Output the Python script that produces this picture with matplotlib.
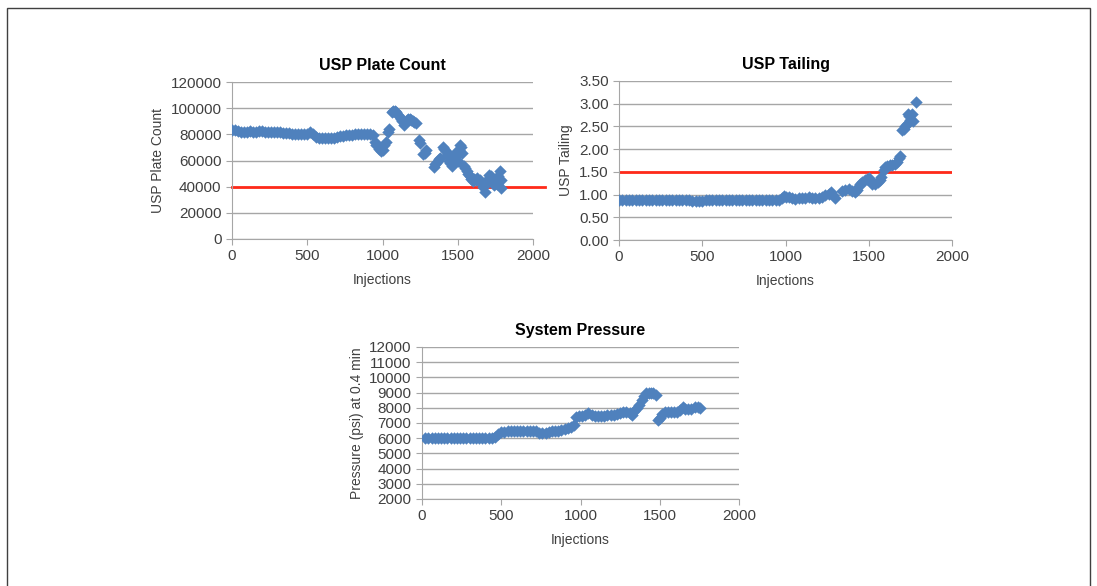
import matplotlib
matplotlib.use("Agg")
import matplotlib.pyplot as plt
from matplotlib.patches import Rectangle

plt.rcParams['font.family'] = ['Liberation Sans', 'DejaVu Sans']

# USP plate count vs injections
plate_x = [0, 20, 40, 60, 80, 100, 120, 140, 160, 180, 200, 220, 240, 260, 280, 300,
           320, 340, 360, 380, 400, 420, 440, 460, 480, 500, 520, 540, 560, 580, 600,
           620, 640, 660, 680, 700, 720, 740, 760, 780, 800, 820, 840, 860, 880, 900,
           920, 940, 950, 960, 970, 980, 990, 1000, 1010, 1020, 1035, 1045, 1060, 1070,
           1080, 1090, 1100, 1110, 1120, 1130, 1140, 1150, 1160, 1170, 1180, 1190, 1200,
           1210, 1220, 1240, 1250, 1270, 1280, 1290, 1340, 1350, 1360, 1375, 1385, 1400,
           1410, 1420, 1430, 1440, 1450, 1460, 1475, 1485, 1495, 1500, 1505, 1515, 1520,
           1525, 1540, 1550, 1560, 1570, 1580, 1590, 1600, 1610, 1620, 1630, 1640, 1650,
           1660, 1670, 1680, 1690, 1700, 1710, 1720, 1730, 1740, 1750, 1760, 1770, 1780,
           1785, 1790]
plate_y = [83000, 83000, 82500, 82000, 82000, 82000, 82500, 82000, 82000, 82500, 82500,
           82000, 82000, 81500, 81500, 81500, 81500, 81000, 81000, 81000, 80500, 80500,
           80500, 80500, 80500, 80500, 82000, 80000, 78000, 77000, 77000, 77000, 77000,
           77500, 77500, 78000, 78500, 79000, 79500, 79500, 79500, 80000, 80000, 80000,
           80000, 80000, 80000, 79500, 74000, 72000, 71000, 69000, 67000, 68000, 72000,
           74000, 82000, 84000, 97000, 98000, 97500, 97000, 95000, 94000, 92000, 90000,
           87000, 89000, 91000, 92000, 91500, 91000, 90000, 89500, 88500, 76000, 73000,
           65000, 66000, 68000, 55000, 57000, 59000, 61000, 62000, 70000, 69000, 67000,
           64000, 60000, 58000, 56000, 62000, 66000, 64000, 60000, 68000, 72000, 70000,
           66000, 56000, 54000, 52000, 50000, 48000, 46000, 44000, 46000, 45000, 47000,
           44000, 45000, 42000, 40000, 36000, 42000, 46000, 49000, 48000, 44000, 41000,
           44000, 42000, 48000, 52000, 45000, 39000]

# USP tailing vs injections
tail_x = [0, 20, 40, 60, 80, 100, 120, 140, 160, 180, 200, 220, 240, 260, 280, 300, 320,
          340, 360, 380, 400, 420, 440, 460, 480, 500, 520, 540, 560, 580, 600, 620, 640,
          660, 680, 700, 720, 740, 760, 780, 800, 820, 840, 860, 880, 900, 920, 940, 960,
          980, 990, 1000, 1020, 1040, 1060, 1080, 1100, 1120, 1140, 1160, 1180, 1200,
          1220, 1240, 1260, 1275, 1285, 1300, 1340, 1360, 1380, 1400, 1420, 1430, 1440,
          1450, 1460, 1475, 1490, 1500, 1510, 1520, 1540, 1555, 1565, 1575, 1590, 1600,
          1610, 1625, 1640, 1655, 1670, 1680, 1688, 1700, 1710, 1720, 1728, 1735, 1742,
          1750, 1758, 1765, 1785]
tail_y = [0.87, 0.87, 0.87, 0.87, 0.87, 0.87, 0.87, 0.87, 0.87, 0.87, 0.87, 0.87, 0.87,
          0.87, 0.87, 0.87, 0.87, 0.87, 0.87, 0.87, 0.87, 0.87, 0.86, 0.86, 0.86, 0.86,
          0.87, 0.88, 0.88, 0.88, 0.88, 0.88, 0.88, 0.88, 0.88, 0.88, 0.88, 0.88, 0.88,
          0.88, 0.88, 0.88, 0.88, 0.88, 0.88, 0.88, 0.88, 0.88, 0.89, 0.93, 0.97, 0.95,
          0.94, 0.92, 0.90, 0.92, 0.93, 0.93, 0.95, 0.93, 0.92, 0.93, 0.95, 0.98, 1.02,
          1.06, 0.99, 0.93, 1.08, 1.10, 1.12, 1.08, 1.05, 1.10, 1.18, 1.24, 1.28, 1.32,
          1.35, 1.36, 1.30, 1.24, 1.24, 1.28, 1.32, 1.38, 1.55, 1.60, 1.62, 1.64, 1.65,
          1.68, 1.72, 1.80, 1.84, 2.42, 2.45, 2.50, 2.55, 2.78, 2.72, 2.65, 2.78, 2.62,
          3.03]

# system pressure (psi) at 0.4 min vs injections
pres_x = [20, 40, 60, 80, 100, 120, 140, 160, 180, 200, 220, 240, 260, 280, 300, 320, 340,
          360, 380, 400, 420, 440, 460, 480, 500, 520, 540, 560, 580, 600, 620, 640, 660,
          680, 700, 720, 740, 760, 780, 800, 820, 840, 860, 880, 900, 920, 940, 960, 970,
          990, 1010, 1030, 1050, 1070, 1090, 1110, 1130, 1150, 1170, 1190, 1210, 1230,
          1250, 1270, 1290, 1310, 1325, 1340, 1355, 1370, 1385, 1400, 1415, 1430, 1445,
          1460, 1475, 1490, 1500, 1515, 1530, 1550, 1570, 1590, 1610, 1630, 1645, 1660,
          1680, 1700, 1720, 1740, 1755]
pres_y = [6000, 6000, 6000, 6000, 6000, 6000, 6000, 6000, 6000, 6000, 6000, 6000, 6000,
          6000, 6000, 6000, 6000, 6000, 6000, 6000, 6000, 6000, 6100, 6300, 6400, 6400,
          6450, 6450, 6450, 6450, 6500, 6500, 6500, 6500, 6500, 6450, 6350, 6350, 6350,
          6400, 6450, 6450, 6500, 6550, 6600, 6650, 6750, 6850, 7400, 7450, 7450, 7500,
          7650, 7500, 7450, 7450, 7450, 7450, 7500, 7500, 7550, 7600, 7650, 7700, 7750,
          7650, 7500, 7800, 8000, 8200, 8500, 8750, 8950, 9000, 9000, 8950, 8850, 7200,
          7300, 7600, 7750, 7750, 7750, 7750, 7750, 7850, 8050, 7950, 7900, 7950, 8050,
          8050, 8000]

plate_limit = 40000
tail_limit = 1.5

blue = '#4F81BD'
grid_col = '#A6A6A6'
text_col = '#404040'

fig = plt.figure(figsize=(10.97, 5.86), dpi=100)
fig.patches.append(Rectangle((7 / 1097, -0.1), 1083 / 1097, 1.1 - 8 / 586,
                             transform=fig.transFigure, fill=False,
                             edgecolor='#404040', linewidth=1.0))

ax1 = fig.add_axes([232 / 1097, 1 - 239 / 586, 301 / 1097, 157 / 586])
ax2 = fig.add_axes([619 / 1097, 1 - 240 / 586, 333 / 1097, 159 / 586])
ax3 = fig.add_axes([422 / 1097, 1 - 499 / 586, 317 / 1097, 152 / 586])


def style(ax, title, ylabel):
    ax.set_xlim(0, 2000)
    ax.set_xticks([0, 500, 1000, 1500, 2000])
    ax.grid(axis='y', color=grid_col, linewidth=1.0)
    ax.set_axisbelow(True)
    for s in ['top', 'right']:
        ax.spines[s].set_visible(False)
    for s in ['left', 'bottom']:
        ax.spines[s].set_color(grid_col)
    ax.tick_params(colors=grid_col, labelcolor=text_col, labelsize=11, length=4)
    ax.set_title(title, fontsize=11.5, fontweight='bold', pad=9, color='black')
    ax.set_xlabel('Injections', fontsize=10, color=text_col, labelpad=7)
    ax.set_ylabel(ylabel, fontsize=10, color=text_col)


ax1.scatter(plate_x, plate_y, marker='D', s=40, color=blue, zorder=3, linewidths=0)
ax1.axhline(plate_limit, color='#FF2A1A', linewidth=2, xmax=1.04, clip_on=False, zorder=2)
ax1.set_ylim(0, 120000)
ax1.set_yticks(range(0, 120001, 20000))
style(ax1, 'USP Plate Count', 'USP Plate Count')

ax2.scatter(tail_x, tail_y, marker='D', s=40, color=blue, zorder=3, linewidths=0)
ax2.axhline(tail_limit, color='#FF2A1A', linewidth=2, zorder=2)
ax2.set_ylim(0, 3.5)
ax2.set_yticks([0, 0.5, 1.0, 1.5, 2.0, 2.5, 3.0, 3.5])
ax2.set_yticklabels(['%.2f' % v for v in [0, 0.5, 1.0, 1.5, 2.0, 2.5, 3.0, 3.5]])
style(ax2, 'USP Tailing', 'USP Tailing')

ax3.scatter(pres_x, pres_y, marker='D', s=40, color=blue, zorder=3, linewidths=0)
ax3.set_ylim(2000, 12000)
ax3.set_yticks(range(2000, 12001, 1000))
style(ax3, 'System Pressure', 'Pressure (psi) at 0.4 min')

fig.savefig('out.png', dpi=100)
